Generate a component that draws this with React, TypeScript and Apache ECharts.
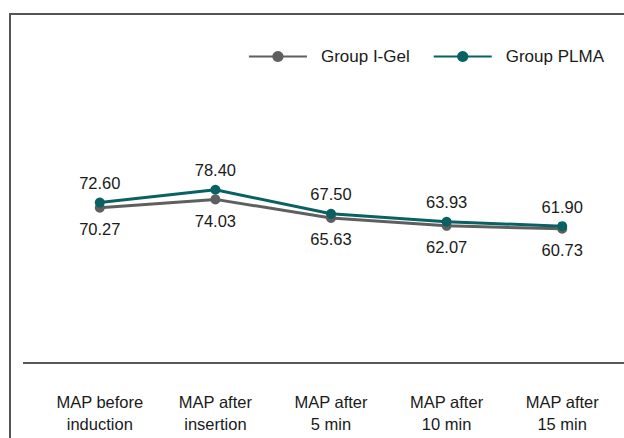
import React, { useEffect, useRef } from "react";
import * as echarts from "echarts";

const categories = [
  "MAP before\ninduction",
  "MAP after\ninsertion",
  "MAP after\n5 min",
  "MAP after\n10 min",
  "MAP after\n15 min",
];
const iGel = [70.27, 74.03, 65.63, 62.07, 60.73];
const plma = [72.6, 78.4, 67.5, 63.93, 61.9];

const FONT = "'Liberation Sans', Arial, sans-serif";
const GRAY = "#5f5f5f";
const TEAL = "#0a6163";

export default function App() {
  const ref = useRef<HTMLDivElement>(null);
  useEffect(() => {
    document.body.style.margin = "0";
    const chart = echarts.init(ref.current!, undefined, { renderer: "svg" });
    chart.setOption({
      animation: false,
      textStyle: { fontFamily: FONT },
      graphic: [
        {
          type: "rect",
          shape: { x: 10, y: 14, width: 700, height: 500 },
          style: { fill: "none", stroke: "#555555", lineWidth: 2 },
          silent: true,
        },
        {
          type: "line",
          shape: { x1: 23, y1: 363, x2: 624, y2: 363 },
          style: { stroke: "#222222", lineWidth: 1.3 },
          silent: true,
        },
      ],
      legend: {
        right: 15,
        top: 43,
        itemWidth: 58,
        itemHeight: 14,
        itemGap: 23,
        textStyle: { fontSize: 17, color: "#1a1a1a", fontFamily: FONT, padding: [0, 0, 0, 9] },
        data: ["Group I-Gel", "Group PLMA"],
      },
      grid: { left: 42, right: 4, top: 142, bottom: 75 },
      xAxis: {
        type: "category",
        data: categories,
        boundaryGap: true,
        axisLine: { show: false },
        axisTick: { show: false },
        axisLabel: {
          margin: 28,
          fontSize: 16.5,
          lineHeight: 22,
          color: "#1a1a1a",
          fontFamily: FONT,
          interval: 0,
        },
      },
      yAxis: {
        type: "value",
        min: 0,
        max: 100,
        show: false,
        splitLine: { show: false },
      },
      series: [
        {
          name: "Group I-Gel",
          type: "line",
          data: iGel,
          symbol: "circle",
          symbolSize: 10,
          lineStyle: { color: GRAY, width: 3 },
          itemStyle: { color: GRAY },
          label: {
            show: true,
            position: "bottom",
            distance: 8,
            fontSize: 16.5,
            color: "#1a1a1a",
            fontFamily: FONT,
            formatter: (p: any) => Number(p.value).toFixed(2),
          },
        },
        {
          name: "Group PLMA",
          type: "line",
          data: plma,
          symbol: "circle",
          symbolSize: 10,
          lineStyle: { color: TEAL, width: 3 },
          itemStyle: { color: TEAL },
          label: {
            show: true,
            position: "top",
            distance: 6,
            fontSize: 16.5,
            color: "#1a1a1a",
            fontFamily: FONT,
            formatter: (p: any) => Number(p.value).toFixed(2),
          },
        },
      ],
    });
    return () => chart.dispose();
  }, []);
  return <div ref={ref} style={{ width: 624, height: 438 }} />;
}
